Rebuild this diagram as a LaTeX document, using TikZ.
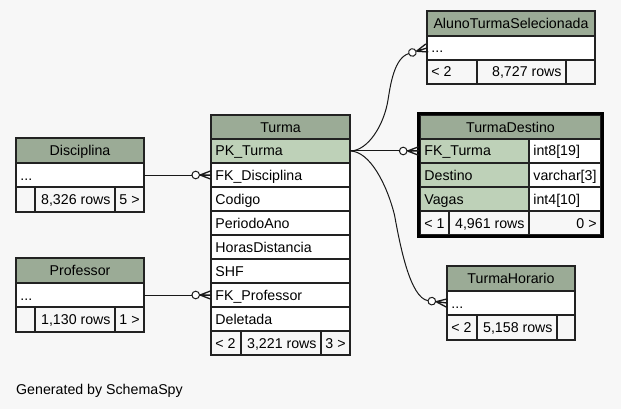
\documentclass[tikz,border=0pt]{standalone}
\usepackage{fontspec}
\setmainfont{Liberation Sans}
\usetikzlibrary{calc}
\definecolor{bgc}{HTML}{F7F7F7}
\definecolor{hdrc}{HTML}{9BAB96}
\definecolor{keyc}{HTML}{BED1B8}
\definecolor{footc}{HTML}{F7F7F7}
\definecolor{linec}{HTML}{222222}
\tikzset{
  cellbox/.style={draw=linec, line width=1.5pt, rectangle, inner sep=0pt, outer sep=0pt},
  txt/.style={inner xsep=4.2pt, inner ysep=0pt, text height=10pt, text depth=0pt,
              font=\fontsize{14.2}{16}\selectfont, text=black},
  conn/.style={draw=black!90, line width=1pt},
  crowodot/.pic={
    \draw[conn, line width=1.3pt] (-11,0) -- (0,-4.2) (-11,0) -- (0,0) (-11,0) -- (0,4.2);
    \draw[conn, fill=white] (-15.3,0) circle[radius=3.8];
  }
}
% name, x1, y1, x2, y2, fill, anchor, text
\newcommand\mkcell[8]{%
  \node[cellbox, fill=#6, minimum width={(#4-#2)*1pt}, minimum height={(#5-#3)*1pt}]
    (#1) at ({(#2+#4)/2},{(#3+#5)/2}) {};
  \node[txt, anchor=#7] (#1-t) at (#1.#7) {#8};
}
\begin{document}
\begin{tikzpicture}[x=1pt, y=-1pt]
\fill[bgc] (0,0) rectangle (621,409);
\useasboundingbox (0,0) rectangle (621,409);

% Turma
\mkcell{turma-h}{211}{115}{350}{139}{hdrc}{center}{Turma}
\mkcell{turma-pk}{211}{139}{350}{163}{keyc}{west}{PK\_Turma}
\mkcell{turma-fkd}{211}{163}{350}{187}{white}{west}{FK\_Disciplina}
\mkcell{turma-cod}{211}{187}{350}{211}{white}{west}{Codigo}
\mkcell{turma-per}{211}{211}{350}{235}{white}{west}{PeriodoAno}
\mkcell{turma-hor}{211}{235}{350}{259}{white}{west}{HorasDistancia}
\mkcell{turma-shf}{211}{259}{350}{283}{white}{west}{SHF}
\mkcell{turma-fkp}{211}{283}{350}{307}{white}{west}{FK\_Professor}
\mkcell{turma-del}{211}{307}{350}{331}{white}{west}{Deletada}
\mkcell{turma-f1}{211}{331}{241}{355}{footc}{west}{< 2}
\mkcell{turma-f2}{241}{331}{321}{355}{footc}{east}{3,221 rows}
\mkcell{turma-f3}{321}{331}{350}{355}{footc}{east}{3 >}

% AlunoTurmaSelecionada
\mkcell{ats-h}{427}{11}{595}{36}{hdrc}{center}{AlunoTurmaSelecionada}
\mkcell{ats-dots}{427}{36}{595}{60}{white}{west}{...}
\mkcell{ats-f1}{427}{60}{477}{84}{footc}{west}{< 2}
\mkcell{ats-f2}{477}{60}{566}{84}{footc}{east}{8,727 rows}
\mkcell{ats-f3}{566}{60}{595}{84}{footc}{east}{}

% TurmaDestino
\mkcell{td-h}{420}{115}{601}{139}{hdrc}{center}{TurmaDestino}
\mkcell{td-fk}{420}{139}{529}{163}{keyc}{west}{FK\_Turma}
\mkcell{td-fkt}{529}{139}{601}{163}{white}{west}{int8[19]}
\mkcell{td-dest}{420}{163}{529}{187}{keyc}{west}{Destino}
\mkcell{td-destt}{529}{163}{601}{187}{white}{west}{varchar[3]}
\mkcell{td-vag}{420}{187}{529}{211}{keyc}{west}{Vagas}
\mkcell{td-vagt}{529}{187}{601}{211}{white}{west}{int4[10]}
\mkcell{td-f1}{420}{211}{449}{235}{footc}{west}{< 1}
\mkcell{td-f2}{449}{211}{529}{235}{footc}{east}{4,961 rows}
\mkcell{td-f3}{529}{211}{601}{235}{footc}{east}{0 >}
\node[draw=black, line width=3pt, inner sep=0pt, outer sep=0pt,
      minimum width=184pt, minimum height=123pt] (td) at (510.5,175) {};

% Disciplina
\mkcell{disc-h}{16}{138}{144}{163}{hdrc}{center}{Disciplina}
\mkcell{disc-dots}{16}{163}{144}{187}{white}{west}{...}
\mkcell{disc-f1}{16}{187}{35}{212}{footc}{west}{}
\mkcell{disc-f2}{35}{187}{115}{212}{footc}{east}{8,326 rows}
\mkcell{disc-f3}{115}{187}{144}{212}{footc}{east}{5 >}

% Professor
\mkcell{prof-h}{16}{258}{144}{283}{hdrc}{center}{Professor}
\mkcell{prof-dots}{16}{283}{144}{307}{white}{west}{...}
\mkcell{prof-f1}{16}{307}{35}{332}{footc}{west}{}
\mkcell{prof-f2}{35}{307}{115}{332}{footc}{east}{1,130 rows}
\mkcell{prof-f3}{115}{307}{144}{332}{footc}{east}{1 >}

% TurmaHorario
\mkcell{th-h}{447}{266}{575}{291}{hdrc}{center}{TurmaHorario}
\mkcell{th-dots}{447}{291}{575}{315}{white}{west}{...}
\mkcell{th-f1}{447}{315}{477}{340}{footc}{west}{< 2}
\mkcell{th-f2}{477}{315}{557}{340}{footc}{east}{5,158 rows}
\mkcell{th-f3}{557}{315}{575}{340}{footc}{east}{}

% caption
\node[anchor=base west, inner sep=0pt, font=\fontsize{14.2}{16}\selectfont] (gen) at (16,394.5) {Generated by SchemaSpy};

% connectors
\draw[conn] (disc-dots.east) -- (turma-fkd.west);
\pic at (turma-fkd.west) {crowodot};
\draw[conn] (prof-dots.east) -- (turma-fkp.west);
\pic at (turma-fkp.west) {crowodot};
\draw[conn] (turma-pk.east) -- (td-fk.west -| td.west);
\pic at (td-fk.west -| td.west) {crowodot};
\draw[conn] (turma-pk.east) .. controls (368,151) and (384,125) .. (388,100)
  .. controls (390.4,85) and (394.2,58) .. ($(ats-dots.west)+(-18.3,5.6)$);
\pic[rotate=17] at (ats-dots.west) {crowodot};
\draw[conn] (turma-pk.east) .. controls (370,151) and (387,185) .. (394.5,215)
  .. controls (400,245) and (410,298) .. ($(th-dots.west)+(-18.95,-2.33)$);
\pic[rotate=-7] at (th-dots.west) {crowodot};
\end{tikzpicture}
\end{document}
